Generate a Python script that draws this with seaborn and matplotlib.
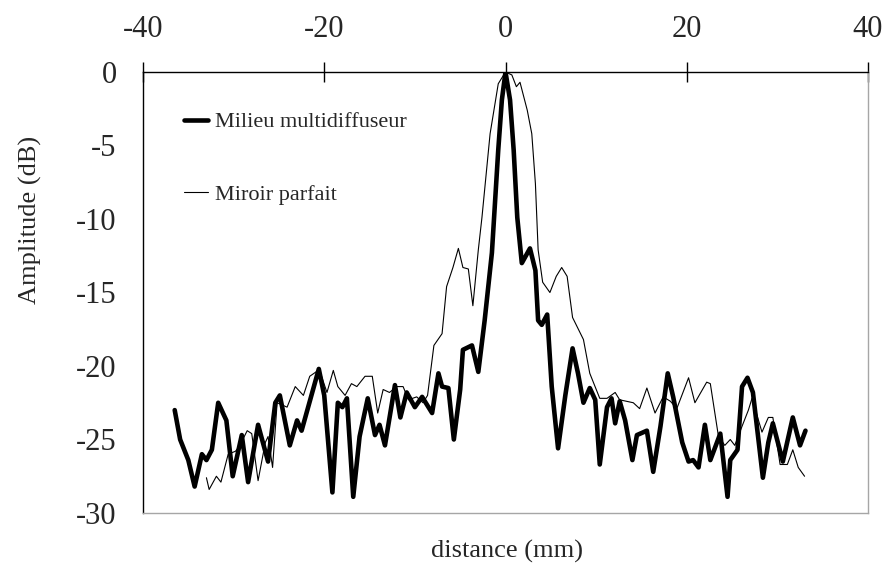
import seaborn as sns
import matplotlib.pyplot as plt
import pandas as pd

# Milieu multidiffuseur (thick curve)
x_milieu = [-36.5, -35.9, -35.0, -34.3, -33.5, -33.0, -32.4, -31.7, -30.8, -30.1,
            -29.1, -28.4, -27.3, -26.2, -25.4, -24.9, -23.8, -23.0, -22.5, -20.6,
            -20.0, -19.1, -18.5, -18.0, -17.5, -16.8, -16.1, -15.2, -14.4, -13.9,
            -13.3, -12.2, -11.6, -10.9, -10.0, -9.2, -8.1, -7.4, -7.0, -6.3,
            -5.7, -5.0, -4.7, -3.7, -3.0, -2.3, -1.5, -0.8, -0.4, 0.0,
            0.5, 0.9, 1.3, 1.8, 2.7, 3.3, 3.6, 4.0, 4.6, 5.1,
            5.8, 6.6, 7.4, 8.0, 8.6, 9.3, 9.9, 10.4, 11.2, 11.7,
            12.1, 12.6, 13.2, 14.0, 14.5, 15.6, 16.3, 17.1, 17.9, 18.5,
            19.5, 20.2, 20.7, 21.3, 22.0, 22.6, 23.7, 24.5, 24.8, 25.6,
            26.1, 26.7, 27.3, 28.4, 29.0, 29.5, 30.6, 31.7, 32.5, 33.1]
y_milieu = [-23.0, -25.0, -26.4, -28.2, -26.0, -26.4, -25.7, -22.5, -23.7, -27.5,
            -24.7, -27.9, -24.0, -26.5, -22.5, -22.0, -25.4, -23.7, -24.4, -20.2,
            -22.0, -28.6, -22.5, -22.8, -22.2, -28.9, -24.8, -22.2, -24.7, -24.0,
            -25.4, -21.3, -23.5, -21.8, -22.8, -22.1, -23.2, -20.5, -21.4, -21.5,
            -25.0, -21.6, -18.9, -18.6, -20.4, -16.9, -12.3, -5.3, -1.9, 0.0,
            -1.9, -5.3, -9.9, -13.0, -12.0, -13.5, -16.9, -17.2, -16.5, -21.4,
            -25.6, -22.0, -18.8, -20.5, -22.5, -21.5, -22.3, -26.7, -22.8, -22.2,
            -23.9, -22.4, -23.7, -26.4, -24.7, -24.4, -27.2, -24.1, -20.5, -22.1,
            -25.2, -26.5, -26.4, -26.9, -24.0, -26.4, -24.6, -28.9, -26.4, -25.7,
            -21.4, -20.8, -21.8, -27.6, -25.2, -23.9, -26.5, -23.5, -25.4, -24.4]

# Miroir parfait (thin curve)
x_miroir = [-33.0, -32.7, -31.9, -31.4, -30.6, -29.8, -29.4, -28.5, -28.0, -27.3,
            -26.5, -26.2, -25.7, -25.2, -24.1, -23.2, -22.3, -21.6, -20.9, -20.3,
            -19.7, -19.0, -18.5, -17.7, -17.0, -16.4, -15.5, -14.7, -14.1, -13.5,
            -12.8, -12.0, -11.3, -10.7, -9.8, -9.1, -8.6, -7.9, -7.0, -6.5,
            -5.8, -5.2, -4.7, -4.1, -3.6, -3.0, -2.6, -1.7, -0.8, 0.0,
            0.7, 1.2, 1.6, 2.4, 2.9, 3.3, 3.6, 4.1, 4.9, 5.6,
            6.2, 6.8, 7.4, 8.6, 9.3, 10.4, 11.2, 12.1, 12.6, 14.1,
            14.8, 15.6, 16.5, 17.4, 18.2, 18.9, 20.2, 20.9, 22.2, 22.6,
            23.5, 24.2, 24.8, 25.3, 26.1, 26.8, 27.2, 28.3, 29.0, 29.5,
            30.3, 31.1, 31.7, 32.3, 33.0]
y_miroir = [-27.6, -28.4, -27.5, -27.9, -26.0, -25.8, -25.5, -24.4, -24.6, -27.8,
            -25.2, -24.8, -26.9, -22.5, -22.8, -21.4, -22.0, -20.7, -20.4, -20.7,
            -21.8, -20.3, -21.4, -22.0, -21.2, -21.4, -20.7, -20.7, -23.2, -21.6,
            -21.8, -21.4, -21.4, -22.3, -22.1, -22.5, -22.0, -18.6, -17.8, -14.6,
            -13.3, -12.0, -13.3, -13.4, -15.9, -12.1, -9.9, -4.2, -0.8, 0.0,
            -0.2, -1.0, -0.7, -2.6, -4.2, -7.6, -12.1, -14.3, -15.0, -13.9,
            -13.3, -13.9, -16.7, -18.2, -20.5, -22.2, -22.2, -21.8, -22.3, -22.5,
            -22.9, -21.5, -23.2, -22.1, -22.4, -22.9, -20.8, -22.5, -21.1, -21.2,
            -24.8, -25.4, -25.0, -25.4, -24.1, -23.0, -22.2, -24.5, -23.5, -23.5,
            -26.7, -26.7, -25.7, -26.9, -27.5]

x_ticks = [-40, -20, 0, 20, 40]
y_ticks = [0, -5, -10, -15, -20, -25, -30]

df_milieu = pd.DataFrame({"distance": x_milieu, "amplitude": y_milieu})
df_miroir = pd.DataFrame({"distance": x_miroir, "amplitude": y_miroir})

sns.set_theme(style="white")
plt.rcParams["font.family"] = ["Liberation Serif", "DejaVu Serif"]
plt.rcParams["axes.unicode_minus"] = False

fig = plt.figure(figsize=(8.87, 5.70), dpi=100)
ax = fig.add_axes([0.1612, 0.10, 0.8174, 0.7737])

sns.lineplot(data=df_milieu, x="distance", y="amplitude", ax=ax,
             color="black", linewidth=3.3, label="Milieu multidiffuseur")
sns.lineplot(data=df_miroir, x="distance", y="amplitude", ax=ax,
             color="black", linewidth=0.8, label="Miroir parfait")

ax.set_xlim(-40, 40)
ax.set_ylim(-30, 0)
ax.set_xticks(x_ticks)
ax.set_yticks(y_ticks)
ax.xaxis.tick_top()
ax.tick_params(axis="both", direction="inout", length=14, width=1,
               color="black", labelsize=22)
ax.tick_params(axis="y", pad=12)
ax.tick_params(axis="x", pad=13)

for side in ["top", "left"]:
    ax.spines[side].set_color("black")
    ax.spines[side].set_linewidth(1.0)
for side in ["right", "bottom"]:
    ax.spines[side].set_color("#a6a6a6")
    ax.spines[side].set_linewidth(1.0)

ax.set_xlabel("")
ax.set_ylabel("")
fig.text(0.572, 0.032, "distance (mm)", ha="center", va="center", fontsize=19)
fig.text(0.034, 0.614, "Amplitude (dB)", ha="center", va="center",
         rotation=90, fontsize=19)

ax.legend(loc="upper left", bbox_to_anchor=(0.041, 0.935), frameon=False,
          fontsize=16, handlelength=1.1, handletextpad=0.3, labelspacing=2.35,
          borderpad=0)

fig.savefig("out.png", dpi=100)
